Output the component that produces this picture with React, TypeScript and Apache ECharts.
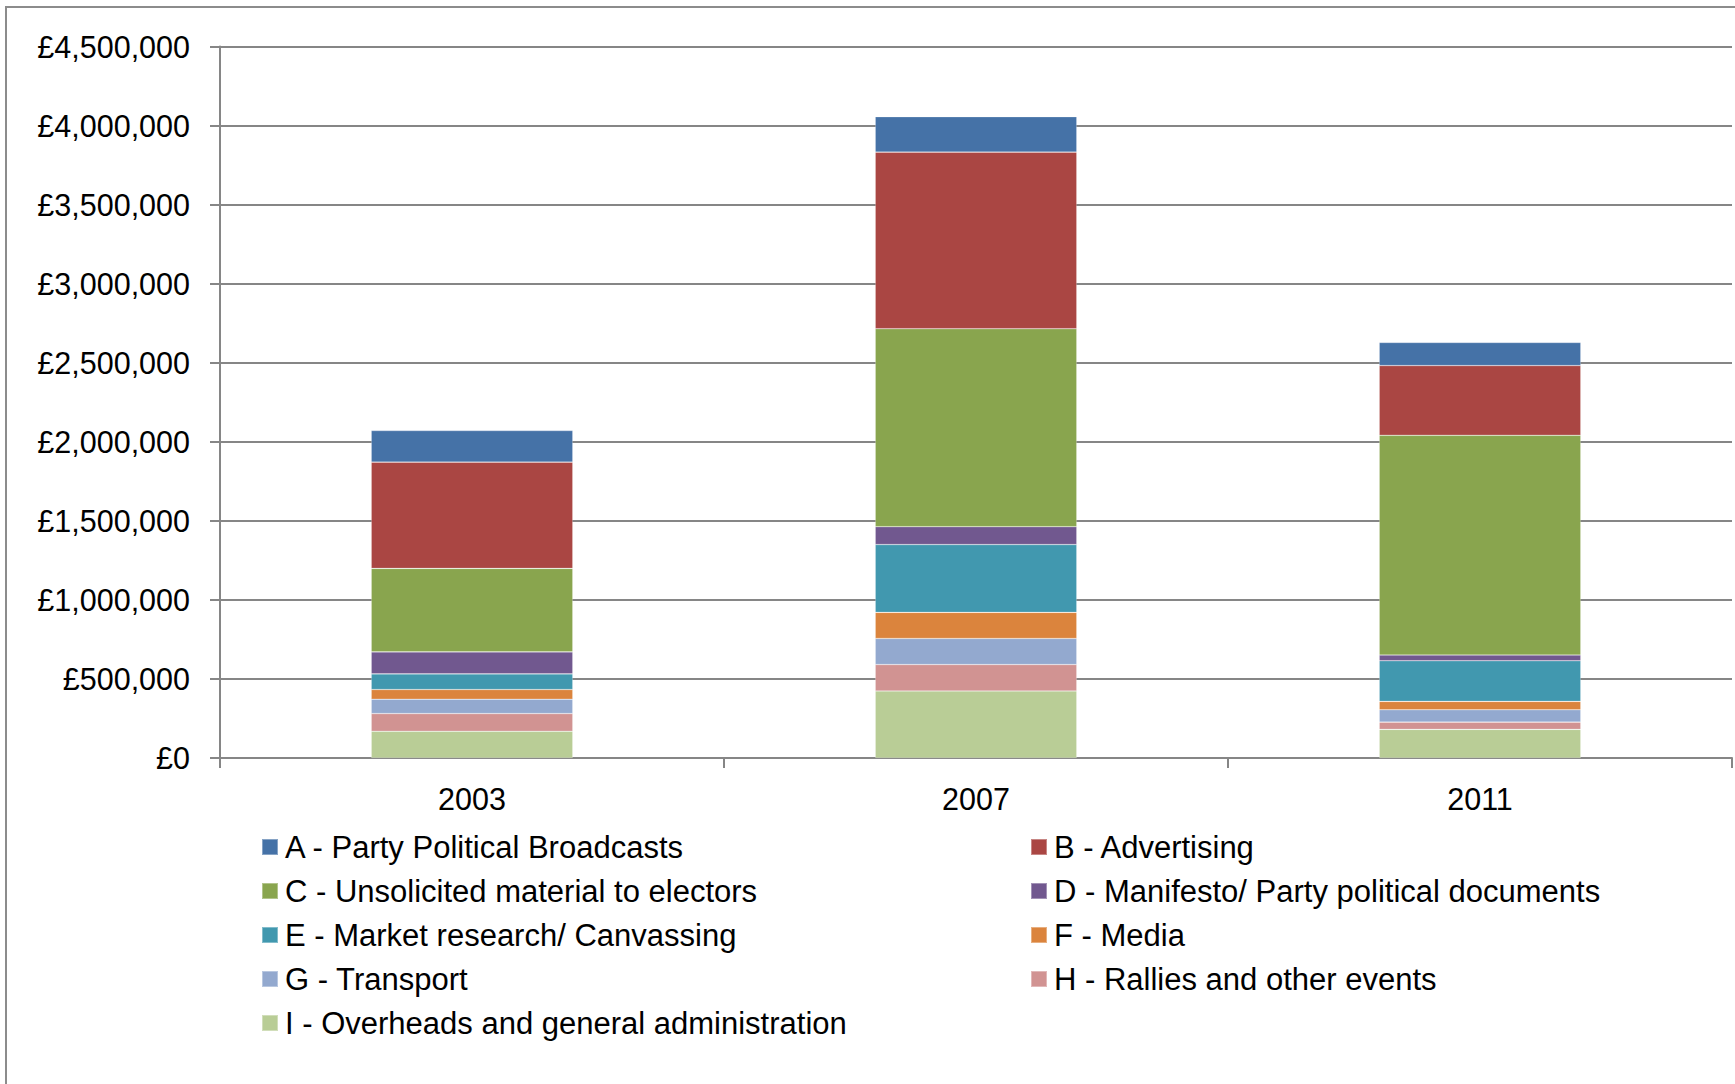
import React, { useEffect, useRef } from "react";
import * as echarts from "echarts";

const years = ["2003", "2007", "2011"];

const seriesNames = [
  "A - Party Political Broadcasts",
  "B - Advertising",
  "C - Unsolicited material to electors",
  "D - Manifesto/ Party political documents",
  "E - Market research/ Canvassing",
  "F - Media",
  "G - Transport",
  "H - Rallies and other events",
  "I - Overheads and general administration",
];

const valuesA = [200000, 224000, 146000];
const valuesB = [672000, 1117000, 441000];
const valuesC = [528000, 1252000, 1390000];
const valuesD = [139000, 113000, 36000];
const valuesE = [99000, 429000, 257000];
const valuesF = [61000, 165000, 53000];
const valuesG = [91000, 165000, 78000];
const valuesH = [112000, 167000, 46000];
const valuesI = [169000, 424000, 181000];

const seriesColors = [
  "#4572A7",
  "#AA4643",
  "#89A54E",
  "#71588F",
  "#4198AF",
  "#DB843D",
  "#93A9CF",
  "#D19392",
  "#B9CD96",
];

const allValues = [valuesA, valuesB, valuesC, valuesD, valuesE, valuesF, valuesG, valuesH, valuesI];

const legendLeftNames = [seriesNames[0], seriesNames[2], seriesNames[4], seriesNames[6], seriesNames[8]];
const legendRightNames = [seriesNames[1], seriesNames[3], seriesNames[5], seriesNames[7]];

const FONT = "Liberation Sans";
const FS = 30.5;

export default function App() {
  const ref = useRef<HTMLDivElement>(null);

  useEffect(() => {
    if (!ref.current) return;
    const chart = echarts.init(ref.current, null, { renderer: "svg" });

    const series = seriesNames
      .map((name, i) => ({
        name,
        type: "bar",
        stack: "total",
        barCategoryGap: "60%",
        data: allValues[i],
        itemStyle: { color: seriesColors[i], borderColor: "rgba(255,255,255,0.35)", borderWidth: 0.6 },
        emphasis: { disabled: true },
      }))
      .reverse();

    const legendCommon = {
      orient: "vertical",
      itemWidth: 16,
      itemHeight: 16,
      itemGap: 13,
      icon: "rect",
      selectedMode: false,
      textStyle: {
        fontFamily: FONT,
        fontSize: 31,
        lineHeight: 31,
        color: "#000",
        padding: [0, 0, 0, 2],
      },
    };

    chart.setOption({
      animation: false,
      color: seriesColors,
      graphic: [
        {
          type: "rect",
          shape: { x: 6, y: 7, width: 2000, height: 2000 },
          style: { fill: "none", stroke: "#8c8c8c", lineWidth: 2 },
          silent: true,
        },
      ],
      legend: [
        { ...legendCommon, left: 256, top: 826.5, data: legendLeftNames },
        { ...legendCommon, left: 1025, top: 826.5, data: legendRightNames },
      ],
      grid: { left: 220, right: 3, top: 46.5, bottom: 326 },
      xAxis: {
        type: "category",
        data: years,
        axisLine: { lineStyle: { color: "#868686", width: 2 } },
        axisTick: { show: true, length: 10, lineStyle: { color: "#868686", width: 2 } },
        axisLabel: {
          fontFamily: FONT,
          fontSize: FS,
          color: "#000",
          margin: 25,
        },
      },
      yAxis: {
        type: "value",
        min: 0,
        max: 4500000,
        interval: 500000,
        axisLine: { show: true, lineStyle: { color: "#868686", width: 2 } },
        axisTick: { show: true, length: 10, lineStyle: { color: "#868686", width: 2 } },
        splitLine: { lineStyle: { color: "#868686", width: 2 } },
        axisLabel: {
          fontFamily: FONT,
          fontSize: FS,
          color: "#000",
          margin: 30,
          formatter: (v: number) => "£" + v.toLocaleString("en-GB"),
        },
      },
      series,
    });

    return () => chart.dispose();
  }, []);

  return (
    <div
      ref={ref}
      style={{ position: "absolute", left: 0, top: 0, width: 1735, height: 1084, background: "#fff" }}
    />
  );
}
